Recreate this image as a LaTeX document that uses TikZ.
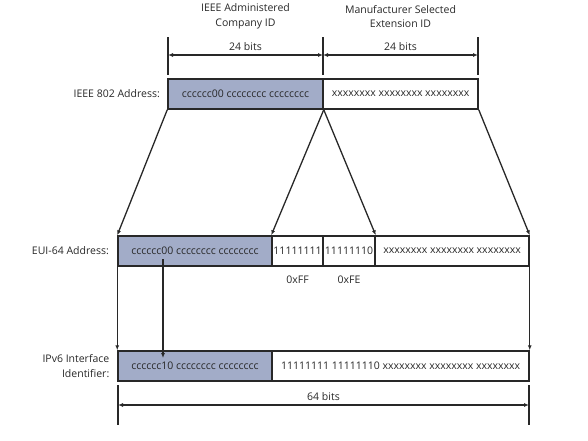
\documentclass[tikz,border=0pt]{standalone}
\usepackage{fontspec}
\setmainfont{Open Sans}
\usepackage{tikz}
\usetikzlibrary{arrows.meta}
\definecolor{ouiblue}{RGB}{162,172,200}
\definecolor{ink}{RGB}{40,40,40}

\begin{document}
\begin{tikzpicture}[x=1pt, y=-1pt, >={Latex[length=5pt,width=4pt]},
  every node/.style={text=ink, font=\fontsize{10.5}{14.5}\selectfont},
  field/.style={draw=ink, line width=1.5pt, minimum height=30pt, inner sep=0pt},
  oui/.style={field, fill=ouiblue},
  rowlabel/.style={anchor=east, inner sep=0pt, align=right},
  link/.style={->, line width=1.3pt, draw=ink},
  dim/.style={<->, line width=1.3pt, draw=ink}]
  \useasboundingbox (0,0) rectangle (588,440);

  % headings
  \node[align=center] (compid) at (245.5,16.5) {IEEE Administered\\Company ID};
  \node[align=center] (extid) at (400.5,16.5) {Manufacturer Selected\\Extension ID};

  % IEEE 802 address
  \node[rowlabel] (macname) at (160,94) {IEEE 802 Address:};
  \node[oui, minimum width=155pt] (macC) at (245.5,94) {cccccc00 cccccccc cccccccc};
  \node[field, minimum width=155pt] (macX) at (400.5,94) {xxxxxxxx xxxxxxxx xxxxxxxx};

  % 24 bit dimensions
  \coordinate (d1) at (168,55);
  \coordinate (d2) at (323,55);
  \coordinate (d3) at (478,55);
  \foreach \d in {d1,d2,d3}
    \draw[line width=1.3pt, ink] (\d) ++(0,-18) -- ++(0,38);
  \draw[dim] (d1) -- node[above] {24 bits} (d2);
  \draw[dim] (d2) -- node[above] {24 bits} (d3);

  % EUI-64 address
  \node[rowlabel] (euiname) at (109,251) {EUI-64 Address:};
  \node[oui, minimum width=154pt] (euiC) at (195,251) {cccccc00 cccccccc cccccccc};
  \node[field, minimum width=51pt] (euiFF) at (297.5,251) {11111111};
  \node[field, minimum width=52pt] (euiFE) at (349,251) {11111110};
  \node[field, minimum width=154pt] (euiX) at (452,251) {xxxxxxxx xxxxxxxx xxxxxxxx};
  \node (ff) at (297.5,280) {0xFF};
  \node (fe) at (349,280) {0xFE};

  \draw[link] (macC.south west) -- (euiC.north west);
  \draw[link] (macC.south east) -- (euiFF.north west);
  \draw[link] (macC.south east) -- (euiFE.north east);
  \draw[link] (macX.south east) -- (euiX.north east);

  % IPv6 interface identifier
  \node[rowlabel] (ifname) at (109.5,366) {IPv6 Interface\\Identifier:};
  \node[oui, minimum width=154pt] (ifC) at (195,366) {cccccc10 cccccccc cccccccc};
  \node[field, minimum width=257pt] (ifR) at (400.5,366) {11111111 11111110 xxxxxxxx xxxxxxxx xxxxxxxx};

  \coordinate (ulbit) at (163,259);
  \coordinate (ulset) at (163,358);
  \draw[link] (euiC.south west) -- (ifC.north west);
  \draw[link] (euiX.south east) -- (ifR.north east);
  \draw[link] (ulbit) -- (ulset);

  % 64 bit dimension
  \coordinate (d4) at (118,405);
  \coordinate (d5) at (529,405);
  \foreach \d in {d4,d5}
    \draw[line width=1.3pt, ink] (\d) ++(0,-20) -- ++(0,40);
  \draw[dim] (d4) -- node[above] {64 bits} (d5);
\end{tikzpicture}
\end{document}
